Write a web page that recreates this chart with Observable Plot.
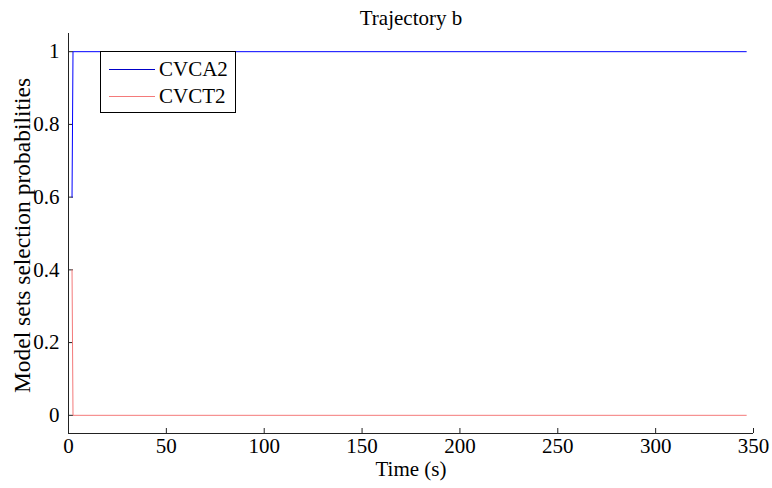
<!DOCTYPE html>
<html>
<head>
<meta charset="utf-8">
<script src="https://cdn.jsdelivr.net/npm/d3@7"></script>
<script src="https://cdn.jsdelivr.net/npm/@observablehq/plot@0.6"></script>
<style>
  body { margin: 0; background: #fff; }
  #wrap { position: relative; width: 772px; height: 488px; font-family: "Liberation Serif", "Times New Roman", serif; }
  #legend { position: absolute; left: 100px; top: 51px; width: 136px; height: 62px; border: 1px solid #000; background: #fff; box-sizing: border-box; }
  .li { position: absolute; left: 8px; height: 24px; line-height: 24px; display: flex; align-items: center; font-size: 21px; }
  .li span.sw { display: inline-block; width: 46px; height: 0; margin-right: 4px; }
</style>
</head>
<body>
<div id="wrap">
  <div id="chart"></div>
  <div id="legend"></div>
</div>
<script>
const title = "Trajectory b";
const xLabel = "Time (s)";
const yLabel = "Model sets selection probabilities";
const seriesNames = ["CVCA2", "CVCT2"];
const seriesColors = ["#0000ff", "#f47a7a"];
const time = [1.8, 2.3, 346.3];
const cvca2 = [0.6, 1, 1];
const cvct2 = [0.4, 0, 0];
const xTicks = [0, 50, 100, 150, 200, 250, 300, 350];
const yTicks = [0, 0.2, 0.4, 0.6, 0.8, 1];

const rows = [];
time.forEach((t, i) => {
  rows.push({t, v: cvca2[i], s: seriesNames[0]});
  rows.push({t, v: cvct2[i], s: seriesNames[1]});
});

const chart = Plot.plot({
  width: 772,
  height: 488,
  marginLeft: 68,
  marginRight: 19,
  marginTop: 33,
  marginBottom: 55,
  style: { fontFamily: "Liberation Serif, Times New Roman, serif", fontSize: "21px", color: "#000", background: "#fff" },
  x: { domain: [0, 350] },
  y: { domain: [-0.05, 1.05] },
  color: { domain: seriesNames, range: seriesColors },
  marks: [
    Plot.axisX({ ticks: xTicks, tickSize: -5, tickPadding: 10, tickFormat: d => String(d), label: null, fontSize: 21, stroke: "#222" }),
    Plot.axisY({ ticks: yTicks, tickSize: -5, tickPadding: 14, tickFormat: d => String(d), label: null, fontSize: 21, stroke: "#222" }),
    Plot.ruleX([0], { stroke: "#222" }),
    Plot.ruleY([-0.05], { stroke: "#222" }),
    Plot.line(rows, { x: "t", y: "v", z: "s", stroke: "s", strokeWidth: 1 }),
    Plot.text([title], { frameAnchor: "top", dy: -23, fontSize: 21, text: d => d }),
    Plot.text([xLabel], { frameAnchor: "bottom", dy: 42, fontSize: 21, text: d => d }),
    Plot.text([yLabel], { frameAnchor: "left", textAnchor: "middle", dx: -46, dy: 2, rotate: -90, fontSize: 23.5, text: d => d })
  ]
});
document.getElementById("chart").appendChild(chart);

const legend = document.getElementById("legend");
seriesNames.forEach((name, i) => {
  const row = document.createElement("div");
  row.className = "li";
  row.style.top = (5 + i * 27) + "px";
  const sw = document.createElement("span");
  sw.className = "sw";
  sw.style.borderTop = "1px solid " + (i === 0 ? "#0000c8" : seriesColors[i]);
  row.appendChild(sw);
  row.appendChild(document.createTextNode(name));
  legend.appendChild(row);
});
</script>
</body>
</html>
